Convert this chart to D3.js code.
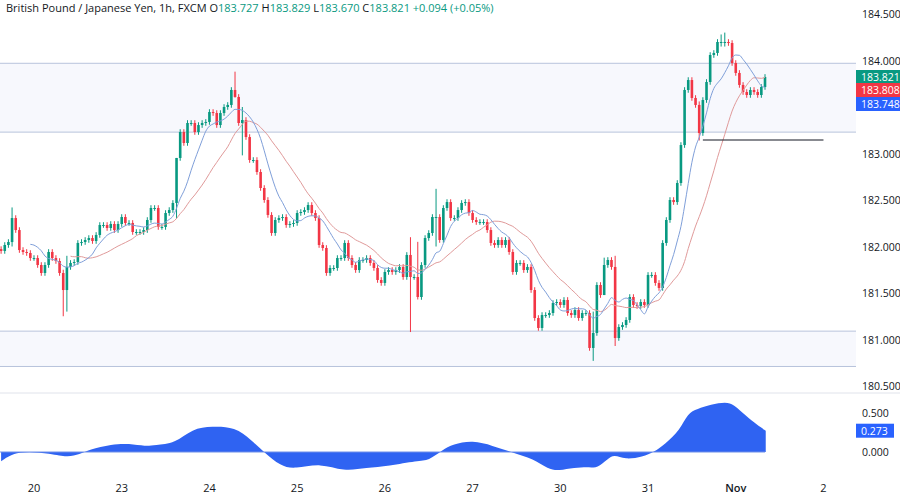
<!DOCTYPE html>
<html><head><meta charset="utf-8">
<script src="https://cdn.jsdelivr.net/npm/d3@7"></script>
<style>body{margin:0;background:#fff;font-family:"Open Sans","Noto Sans",sans-serif}</style>
</head><body><svg id="c" width="900" height="496"></svg>
<script>
// close prices, hourly candles (pixel y converted to price)
const closeY = [251,245,242,218,230,250,252,253,258,258,265,273,265,252,258,261,273,290,267,263,262,243,242,240,238,241,235,225,225,228,224,230,224,217,223,223,232,232,232,230,220,208,208,227,227,213,210,203,158,132,143,123,123,132,125,123,122,112,113,125,113,107,105,90,97,123,120,137,160,160,172,188,200,215,233,220,218,217,225,224,223,
213,212,210,205,213,218,245,248,273,268,268,258,258,243,258,265,270,260,260,258,263,268,280,283,272,270,272,270,267,277,255,277,277,297,265,238,233,217,217,240,208,202,218,218,210,203,202,213,220,222,222,222,230,243,245,240,245,240,252,272,263,263,270,267,290,318,328,315,315,313,303,302,305,300,313,315,310,318,313,313,348,333,285,
295,265,260,267,338,327,325,320,297,305,306,302,305,275,275,283,288,243,220,200,202,183,145,90,80,98,105,133,100,82,55,53,42,42,42,43,63,73,85,92,95,90,92,95,87,77];
const closes = closeY.map(y => +(184.5 - (y - 14) / 93).toFixed(3));
// notable wick extremes: [candle index, high, low]
const wicks = [[3,182.42,182.0],[17,181.75,181.25],[18,181.9,181.3],[48,182.8,182.3],[64,183.88,183.6],[66,183.5,182.98],[112,182.1,181.08],[114,182.05,181.43],[119,182.62,182.0],[162,181.3,180.77],[165,181.88,181.5],[168,181.9,180.93],[191,183.56,183.14],[197,184.28,184.15],[198,184.3,184.15]];
const dayLabels = ["20","23","24","25","26","27","30","31","Nov","2"];
const dayIndex = [9,33,57,81,105,129,153,177,201,225];
const priceTicks = [184.5,184.0,183.0,182.5,182.0,181.5,181.0,180.5];
const zones = [[183.23,183.97],[180.71,181.09]];
const supportLine = {from:192, to:225, price:183.145};
const oscIdx = [0,4.3,14,18,21.6,24,30.3,35,39.6,42,47.6,52.3,57.7,64,68.5,71.9,76.5,80.3,87.4,93.7,100,106,114,117,120.6,123.6,129,134.5,139.5,145.8,149.6,152.6,156.7,161.3,163,166,167.7,170.7,175.6,178.6,181.6,185.7,187.9,190.4,194.2,198.3,200.5,203.8,206.8,209.2];
const oscVal = [-0.12,0.02,-0.02,-0.07,-0.03,0.03,0.1,0.11,0.07,0.09,0.11,0.3,0.33,0.32,0.15,0,-0.18,-0.22,-0.14,-0.25,-0.2,-0.18,-0.11,-0.11,0.02,0.1,0.15,0.08,0,-0.09,-0.22,-0.24,-0.2,-0.19,-0.21,-0.09,-0.03,-0.1,-0.06,0,0.1,0.28,0.5,0.55,0.61,0.64,0.61,0.46,0.35,0.273];

const GREEN="#089981", RED="#f23645", BLUE="#2962ff";
const svg = d3.select("#c");
const n = closes.length;
const x = d3.scaleLinear().domain([0,209]).range([1.1,765]);
const y = d3.scaleLinear().domain([180.5,184.5]).range([386,14]);
const yo = d3.scaleLinear().domain([0,0.5]).range([452,413]);

zones.forEach(z=>{
  svg.append("rect").attr("x",0).attr("width",856).attr("y",y(z[1])).attr("height",y(z[0])-y(z[1])).attr("fill","#f7f8fd");
  [z[0],z[1]].forEach(p=>svg.append("line").attr("x1",0).attr("x2",856).attr("y1",y(p)).attr("y2",y(p)).attr("stroke","#b8c3dc").attr("stroke-width",1));
});

const data = closes.map((c,i)=>{
  const o = i===0 ? c+0.02 : closes[i-1];
  let h = Math.max(o,c)+0.03, l = Math.min(o,c)-0.03;
  const w = wicks.find(d=>d[0]===i); if(w){h=Math.max(w[1],Math.max(o,c));l=Math.min(w[2],Math.min(o,c));}
  return {i,o,c,h,l};
});
const g = svg.append("g");
data.forEach(d=>{
  const col = d.c>=d.o?GREEN:RED;
  g.append("line").attr("x1",x(d.i)).attr("x2",x(d.i)).attr("y1",y(d.h)).attr("y2",y(d.l)).attr("stroke",col).attr("stroke-width",1);
  const top=y(Math.max(d.o,d.c)), bot=y(Math.min(d.o,d.c));
  g.append("rect").attr("x",x(d.i)-1.3).attr("width",2.6).attr("y",top).attr("height",Math.max(1,bot-top)).attr("fill",col);
});

function sma(p){return closes.map((c,i)=>i<p-1?null:d3.mean(closes.slice(i-p+1,i+1)));}
const fast = sma(9), slow = sma(20);
const line = d3.line().defined(v=>v!=null).x((v,i)=>x(i)).y(v=>y(v)).curve(d3.curveMonotoneX);
svg.append("path").attr("d",line(slow)).attr("fill","none").attr("stroke","#e09a9a").attr("stroke-width",1);
svg.append("path").attr("d",line(fast)).attr("fill","none").attr("stroke","#7f9fd9").attr("stroke-width",1);

svg.append("line").attr("x1",x(supportLine.from)).attr("x2",x(supportLine.to)).attr("y1",y(supportLine.price)).attr("y2",y(supportLine.price)).attr("stroke","#131722").attr("stroke-width",1);

const FS = 10.5;
priceTicks.forEach(p=>svg.append("text").attr("x",862).attr("y",y(p)+4).attr("font-size",FS).attr("fill","#131722").text(p.toFixed(3)));
const tagCols=[GREEN,RED,BLUE], tagTxt=["183.821","183.808","183.748"], ty=[77,90,104];
tagCols.forEach((c,k)=>{
  svg.append("rect").attr("x",856).attr("y",ty[k]-7).attr("width",44).attr("height",14).attr("fill",c);
  svg.append("text").attr("x",861).attr("y",ty[k]+4).attr("font-size",FS).attr("fill","#fff").text(tagTxt[k]);
});

svg.append("line").attr("x1",0).attr("x2",900).attr("y1",393).attr("y2",393).attr("stroke","#e0e3eb");

const area = d3.area().x((d,i)=>x(oscIdx[i])).y0(yo(0)).y1(d=>yo(d)).curve(d3.curveBasis);
svg.append("path").attr("d",area(oscVal)).attr("fill","#2f63f2");
svg.append("line").attr("x1",0).attr("x2",x(209)).attr("y1",yo(0)).attr("y2",yo(0)).attr("stroke","#6e8fe8");
[0.5,0].forEach(v=>svg.append("text").attr("x",862).attr("y",yo(v)+4).attr("font-size",FS).attr("fill","#131722").text(v.toFixed(3)));
svg.append("rect").attr("x",856).attr("y",yo(0.273)-7).attr("width",38).attr("height",14).attr("fill",BLUE);
svg.append("text").attr("x",861).attr("y",yo(0.273)+4).attr("font-size",FS).attr("fill","#fff").text("0.273");

dayLabels.forEach((l,k)=>svg.append("text").attr("x",x(dayIndex[k])).attr("y",492).attr("text-anchor","middle").attr("font-size",11).attr("fill","#131722").attr("font-weight",l==="Nov"?"600":"400").text(l));

const hdr = svg.append("text").attr("x",6).attr("y",12).attr("font-size",11).attr("fill","#131722");
hdr.append("tspan").text("British Pound / Japanese Yen, 1h, FXCM  ");
[["O","183.727"],["H","183.829"],["L","183.670"],["C","183.821"]].forEach(p=>{
  hdr.append("tspan").text(p[0]); hdr.append("tspan").attr("fill",GREEN).text(p[1]+"  ");
});
hdr.append("tspan").attr("fill",GREEN).text("+0.094 (+0.05%)");
</script></body></html>
